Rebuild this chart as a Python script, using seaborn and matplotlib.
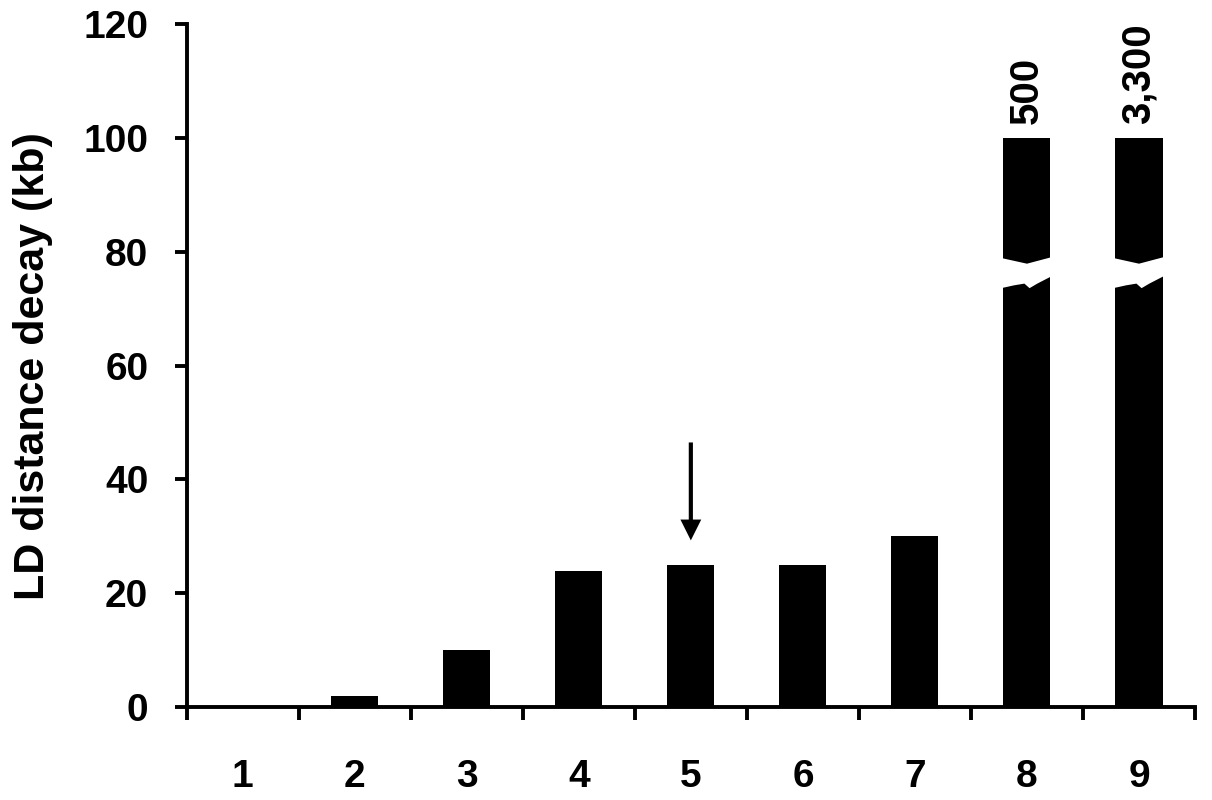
import matplotlib
matplotlib.use("Agg")
import matplotlib.pyplot as plt
from matplotlib.patches import Polygon
from matplotlib.ticker import FixedLocator
import numpy as np
import pandas as pd
import seaborn as sns

# data
categories = ["1", "2", "3", "4", "5", "6", "7", "8", "9"]
ld_kb = [0, 2, 10, 24, 25, 25, 30, 500, 3300]
y_cap = 100            # bars taller than this are drawn broken
arrow_cat = "5"        # arrow points at this bar
arrow_from, arrow_to = 46.5, 29.3

df = pd.DataFrame({"cat": categories, "kb": ld_kb})
df["shown"] = df["kb"].clip(upper=y_cap)

sns.set_style("ticks")
plt.rcParams["font.family"] = ["Liberation Sans", "DejaVu Sans"]
plt.rcParams["font.weight"] = "bold"
for key in ["text.color", "axes.labelcolor", "xtick.color", "ytick.color", "axes.edgecolor"]:
    plt.rcParams[key] = "black"

fig = plt.figure(figsize=(12.12, 8), dpi=100)
ax = fig.add_axes([0.154, 0.116, 0.832, 0.854])

sns.barplot(data=df, x="cat", y="shown", color="black", saturation=1,
            width=0.42, edgecolor="none", ax=ax)

ax.set_ylim(0, 120)
ax.set_xlim(-0.5, len(categories) - 0.5)
ax.set_yticks(np.arange(0, 121, 20))
ax.set_ylabel("LD distance decay (kb)", fontsize=31, fontweight="bold", labelpad=22)
ax.set_xlabel("")

# x ticks: marks between categories, labels at centres
ax.xaxis.set_major_locator(FixedLocator(np.arange(-0.5, len(categories), 1.0)))
ax.xaxis.set_minor_locator(FixedLocator(np.arange(len(categories))))
ax.set_xticklabels([])
ax.set_xticklabels(categories, minor=True)
ax.tick_params(axis="x", which="major", direction="out", length=9.5, width=2.8)
ax.tick_params(axis="x", which="minor", length=0, pad=37, labelsize=28)
ax.tick_params(axis="y", direction="out", length=8.6, width=2.8, pad=19, labelsize=28)
for lab in ax.get_xticklabels(minor=True) + ax.get_yticklabels():
    lab.set_fontweight("bold")

for side in ["top", "right"]:
    ax.spines[side].set_visible(False)
for side in ["left", "bottom"]:
    ax.spines[side].set_linewidth(2.8)

# broken bars: white wavy gap and true value on top
half = 0.21
f = np.array([0.0, 0.25, 0.5, 0.75, 1.0])
top_edge = np.array([78.9, 78.4, 77.9, 78.5, 79.1])
fb = np.array([1.0, 0.7, 0.55, 0.45, 0.25, 0.0])
bot_edge = np.array([75.8, 74.4, 73.6, 74.4, 74.1, 73.6])
for i, v in enumerate(ld_kb):
    if v > y_cap:
        x0 = i - half - 0.02
        w = 2 * half + 0.04
        pts = [(x0 + w * a, b) for a, b in zip(f, top_edge)]
        pts += [(x0 + w * a, b) for a, b in zip(fb, bot_edge)]
        ax.add_patch(Polygon(pts, closed=True, facecolor="white",
                             edgecolor="none", zorder=5))
        ax.text(i, y_cap + 2.5, f"{v:,}", rotation=90, ha="center", va="bottom",
                fontsize=29, fontweight="bold", clip_on=False)

xi = categories.index(arrow_cat)
ax.annotate("", xy=(xi, arrow_to), xytext=(xi, arrow_from),
            arrowprops=dict(facecolor="black", edgecolor="none", width=3,
                            headwidth=15, headlength=15, shrink=0))

fig.savefig("out.png", dpi=100)
